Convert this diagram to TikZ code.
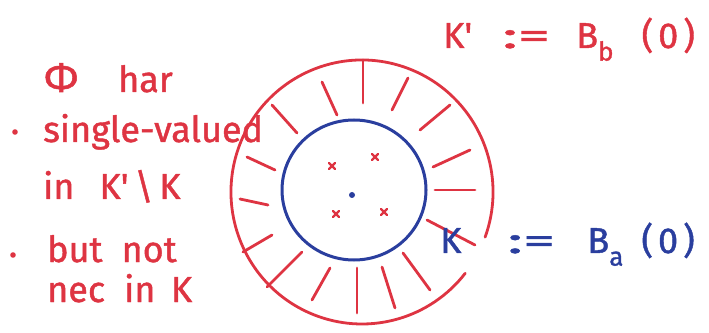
\documentclass[tikz,border=0pt]{standalone}
\usepackage{amsmath, amssymb}
\usepackage{tikz}
\usepackage{xcolor}
\usepackage{fontspec}
\setmainfont{Fira Sans}
\newfontfamily\penfont{Fira Sans}[FakeBold=1.2]
\usetikzlibrary{positioning}

\definecolor{penred}{RGB}{222,52,66}
\definecolor{penblue}{RGB}{42,62,158}

\newcommand{\lowsub}[1]{\raisebox{-0.35em}{\fontsize{26}{30}\selectfont #1}}
\newcommand{\wideassign}{\scalebox{1.8}[1]{:=}}

\tikzset{
    redpen/.style={draw=penred, line width=2.8pt, line cap=round},
    bluepen/.style={draw=penblue, line width=3pt},
    scribble/.style={font=\penfont\fontsize{36}{40}\selectfont, inner sep=0pt, anchor=base west},
}

\begin{document}
\begin{tikzpicture}[x=1pt, y=1pt]
    \useasboundingbox (0, 0) rectangle (709, 332);

    % Outer ball K' (open where the K label sits)
    \draw[redpen] (362, 140) ++(-20:131 and 132)
        arc[start angle=-20, end angle=322, x radius=131, y radius=132];

    % Inner ball K
    \draw[bluepen] (354, 142) ellipse [x radius=72, y radius=70];

    % Hatching between the two balls
    \draw[redpen] (363, 272) -- (363, 229);
    \draw[redpen] (322, 250) -- (337, 217);
    \draw[redpen] (272, 227) -- (297, 199);
    \draw[redpen] (247, 175) -- (275, 162);
    \draw[redpen] (240, 133) -- (268, 127);
    \draw[redpen] (243, 80) -- (272, 97);
    \draw[redpen] (267, 45) -- (302, 80);
    \draw[redpen] (312, 32) -- (330, 64);
    \draw[redpen] (357, 19) -- (357, 64);
    \draw[redpen] (395, 24) -- (382, 65);
    \draw[redpen] (430, 42) -- (403, 79);
    \draw[redpen] (427, 112) -- (475, 87);
    \draw[redpen] (435, 142) -- (475, 142);
    \draw[redpen] (433, 165) -- (470, 182);
    \draw[redpen] (420, 202) -- (450, 227);
    \draw[redpen] (392, 222) -- (408, 254);

    % Centre and the marked points inside K
    \fill[penblue] (352, 137) circle (3pt);
    \draw[redpen, line width=2.2pt] (329, 163) -- (335, 169) (329, 169) -- (335, 163);
    \draw[redpen, line width=2.2pt] (372, 172) -- (378, 178) (372, 178) -- (378, 172);
    \draw[redpen, line width=2.2pt] (333, 115) -- (339, 121) (333, 121) -- (339, 115);
    \draw[redpen, line width=2.2pt] (381, 117) -- (387, 123) (381, 123) -- (387, 117);

    % Notes on the left
    \node[scribble, text=penred] (phi) at (44, 240) {\fontsize{42}{46}\selectfont Φ};
    \node[scribble, text=penred] (har) at (118, 240) {har};
    \fill[penred] (15, 200) circle (2.8pt);
    \node[scribble, text=penred] (single) at (43, 190) {single-valued};
    \node[scribble, text=penred] (inKK) at (43, 133) {in \ \,K'\,\textbackslash\,K};
    \fill[penred] (13, 77) circle (2.8pt);
    \node[scribble, text=penred] (butnot) at (47, 70) {but \ not};
    \node[scribble, text=penred] (necK) at (47, 30) {nec \ in \,K};

    % Definitions on the right
    \node[scribble, text=penred] (bigball) at (443, 284)
        {K'\hspace{30pt}\wideassign\hspace{26pt}B\lowsub{b}\hspace{28pt}(\hspace{5pt}0\hspace{5pt})};
    \node[scribble, text=penblue] (smallball) at (440, 79)
        {K\hspace{46pt}\wideassign\hspace{32pt}B\lowsub{a}\hspace{18pt}(\hspace{5pt}0\hspace{5pt})};
\end{tikzpicture}
\end{document}
